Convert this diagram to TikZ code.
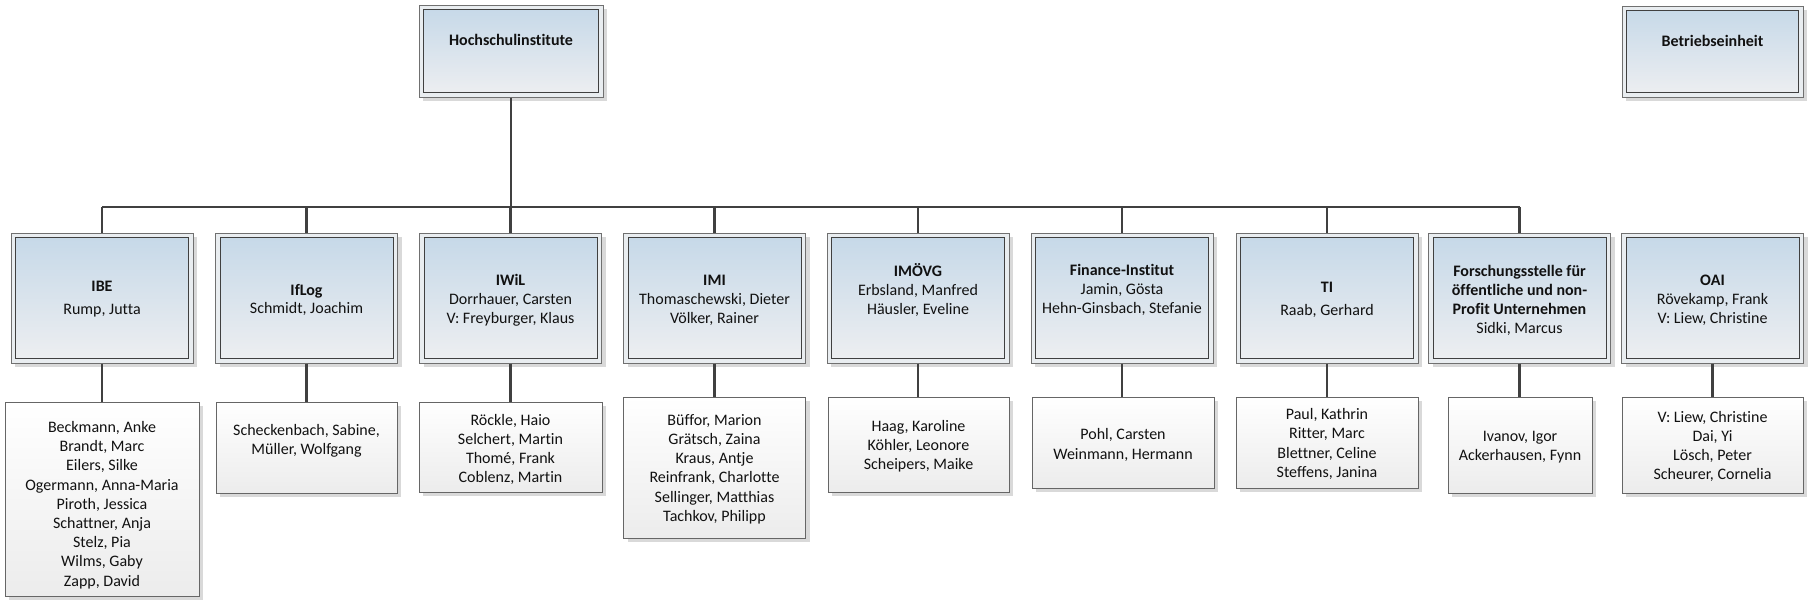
\documentclass[tikz,border=0pt]{standalone}
\usepackage{fontspec}
\setmainfont{Carlito}[Ligatures={NoCommon}]
\usetikzlibrary{shadows}
\definecolor{outerc}{HTML}{707070}
\definecolor{innerc}{HTML}{404040}
\definecolor{bluetop}{HTML}{C5D8E8}
\definecolor{graybot}{HTML}{EEEFF1}
\definecolor{framefill}{HTML}{E9EDF0}
\definecolor{staffline}{HTML}{666666}
\definecolor{staffbot}{HTML}{ECECEC}
\definecolor{connc}{HTML}{404040}
\definecolor{shadowc}{HTML}{D9D9D9}
\definecolor{txt}{HTML}{111111}
\newcommand{\ttl}[1]{{\bfseries #1}}
\tikzset{
  unitbox/.style={draw=outerc, line width=1pt, fill=framefill, inner sep=0pt,
    drop shadow={shadow xshift=4pt, shadow yshift=-4pt, fill=shadowc, opacity=1},
    path picture={\draw[innerc, line width=1pt, top color=bluetop, bottom color=graybot]
      ([shift={(4.5pt,-4.5pt)}]path picture bounding box.north west) rectangle
      ([shift={(-4.5pt,4.5pt)}]path picture bounding box.south east);}},
  deptbox/.style={unitbox, minimum width=182pt, minimum height=130pt},
  staffbox/.style={draw=staffline, line width=1pt, top color=white, bottom color=staffbot, inner sep=0pt,
    drop shadow={shadow xshift=4pt, shadow yshift=-4pt, fill=shadowc, opacity=1}},
  boxtext/.style={align=center, font=\fontsize{16}{19.2}\selectfont, text=txt, inner sep=0pt},
  conn/.style={draw=connc, line width=2.4pt},
}
\begin{document}
\begin{tikzpicture}[x=1pt, y=-1pt]
\useasboundingbox (0,0) rectangle (1810,606);

% top level
\node[unitbox, minimum width=184pt, minimum height=92pt] (hs) at (511,51) {};
\node[boxtext] (hsT) at (511,39.5) {\ttl{Hochschulinstitute}};
\node[unitbox, minimum width=181pt, minimum height=91pt] (be) at (1712.5,51.5) {};
\node[boxtext] (beT) at (1712.5,40.5) {\ttl{Betriebseinheit}};

% departments
\node[deptbox] (ibe) at (102,298) {};
\node[boxtext] (ibeT) at (102,299.5) {\ttl{IBE}\\[3.8pt]Rump, Jutta};
\node[deptbox] (iflog) at (306.5,298) {};
\node[boxtext] (iflogT) at (306.5,300) {\ttl{IfLog}\\[-1pt]Schmidt, Joachim};
\node[deptbox] (iwil) at (510.5,298) {};
\node[boxtext] (iwilT) at (510.5,300.5) {\ttl{IWiL}\\Dorrhauer, Carsten\\V: Freyburger, Klaus};
\node[deptbox] (imi) at (714.5,298) {};
\node[boxtext] (imiT) at (714.5,300.5) {\ttl{IMI}\\Thomaschewski, Dieter\\Völker, Rainer};
\node[deptbox] (imovg) at (918,298) {};
\node[boxtext] (imovgT) at (918,290) {\ttl{IMÖVG}\\Erbsland, Manfred\\Häusler, Eveline};
\node[deptbox] (fin) at (1122,298) {};
\node[boxtext] (finT) at (1122,290) {\ttl{Finance-Institut}\\Jamin, Gösta\\Hehn-Ginsbach, Stefanie};
\node[deptbox] (ti) at (1327,298) {};
\node[boxtext] (tiT) at (1327,299.5) {\ttl{TI}\\[3.8pt]Raab, Gerhard};
\node[deptbox] (fors) at (1519.5,298) {};
\node[boxtext] (forsT) at (1519.5,300.5) {\ttl{Forschungsstelle für}\\\ttl{öffentliche und non-}\\\ttl{Profit Unternehmen}\\Sidki, Marcus};
\node[deptbox] (oai) at (1712.5,298) {};
\node[boxtext] (oaiT) at (1712.5,300) {\ttl{OAI}\\Rövekamp, Frank\\V: Liew, Christine};

% staff
\node[staffbox, minimum width=194pt, minimum height=194pt] (ibeS) at (102,499) {};
\node[boxtext] (ibeST) at (102,505) {Beckmann, Anke\\Brandt, Marc\\Eilers, Silke\\Ogermann, Anna-Maria\\Piroth, Jessica\\Schattner, Anja\\Stelz, Pia\\Wilms, Gaby\\Zapp, David};
\node[staffbox, minimum width=181pt, minimum height=91pt] (iflogS) at (306.5,447.5) {};
\node[boxtext] (iflogST) at (306.5,440.5) {Scheckenbach, Sabine,\\Müller, Wolfgang};
\node[staffbox, minimum width=183pt, minimum height=90pt] (iwilS) at (510.5,447) {};
\node[boxtext] (iwilST) at (510.5,449.5) {Röckle, Haio\\Selchert, Martin\\Thomé, Frank\\Coblenz, Martin};
\node[staffbox, minimum width=182pt, minimum height=141pt] (imiS) at (714.5,467.5) {};
\node[boxtext] (imiST) at (714.5,469) {Büffor, Marion\\Grätsch, Zaina\\Kraus, Antje\\Reinfrank, Charlotte\\Sellinger, Matthias\\Tachkov, Philipp};
\node[staffbox, minimum width=181pt, minimum height=95pt] (imovgS) at (918.5,444.5) {};
\node[boxtext] (imovgST) at (918.5,446.5) {Haag, Karoline\\Köhler, Leonore\\Scheipers, Maike};
\node[staffbox, minimum width=182pt, minimum height=91pt] (finS) at (1123,442.5) {};
\node[boxtext] (finST) at (1123,445) {Pohl, Carsten\\Weinmann, Hermann};
\node[staffbox, minimum width=182pt, minimum height=91pt] (tiS) at (1327,442.5) {};
\node[boxtext] (tiST) at (1327,444) {Paul, Kathrin\\Ritter, Marc\\Blettner, Celine\\Steffens, Janina};
\node[staffbox, minimum width=144pt, minimum height=96pt] (forsS) at (1520,445) {};
\node[boxtext] (forsST) at (1520,447) {Ivanov, Igor\\Ackerhausen, Fynn};
\node[staffbox, minimum width=181pt, minimum height=96pt] (oaiS) at (1712.5,445) {};
\node[boxtext] (oaiST) at (1712.5,446.5) {V: Liew, Christine\\Dai, Yi\\Lösch, Peter\\Scheurer, Cornelia};

% connectors
\coordinate (busL) at (102,207);
\coordinate (busR) at (1519.5,207);
\draw[conn] (busL) -- (busR);
\draw[conn] (hs.south) -- (hs.south |- busL);
\foreach \d in {ibe,iflog,iwil,imi,imovg,fin,ti,fors} {
  \draw[conn] (\d.north) -- (\d.north |- busL);
}
\foreach \d in {ibe,iflog,iwil,imi,imovg,fin,ti,fors,oai} {
  \draw[conn] (\d.south) -- (\d.south |- \d S.north);
}
\end{tikzpicture}
\end{document}
